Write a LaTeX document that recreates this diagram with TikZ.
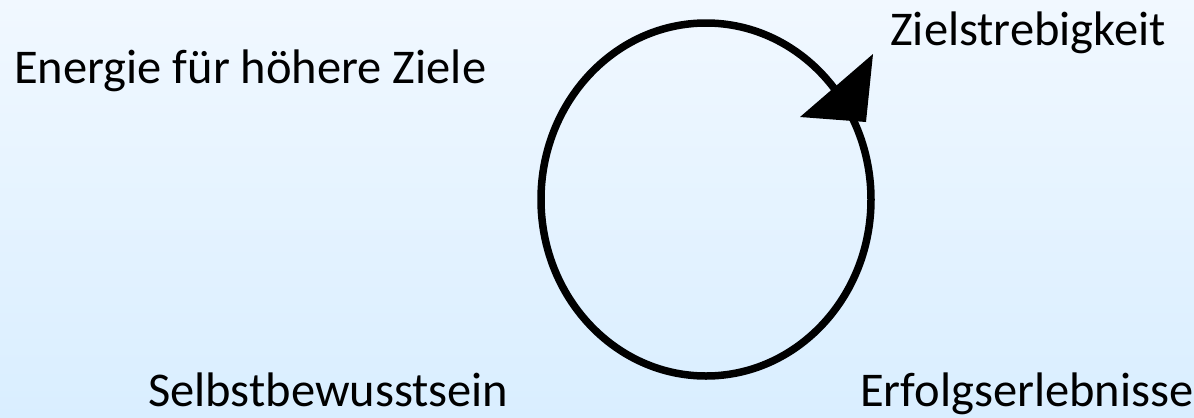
\documentclass[tikz,border=0pt]{standalone}
\usepackage{fontspec}
\setmainfont{Carlito}
\definecolor{bgtop}{RGB}{241,248,255}
\definecolor{bgbot}{RGB}{217,238,255}
\begin{document}
\begin{tikzpicture}[x=1bp,y=-1bp,
  lbl/.style={anchor=base west,inner sep=0pt,font=\fontsize{48.5bp}{58bp}\selectfont},
  ring/.style={line width=7.5bp,draw=black}]
\shade[top color=bgtop,bottom color=bgbot] (0,0) rectangle (1194,417);
\useasboundingbox (0,0) rectangle (1194,417);
\draw[ring] (706,199.5) ellipse [x radius=165,y radius=176.5];
\fill[black] (800,117) -- (873,54) -- (866,122) -- cycle;
\node[lbl] (ziel) at (890,45) {Zielstrebigkeit};
\node[lbl] (energie) at (14,83) {Energie für höhere Ziele};
\node[lbl] (selbst) at (148,406) {Selbstbewusstsein};
\node[lbl] (erfolg) at (860,406) {Erfolgserlebnisse};
\end{tikzpicture}
\end{document}
